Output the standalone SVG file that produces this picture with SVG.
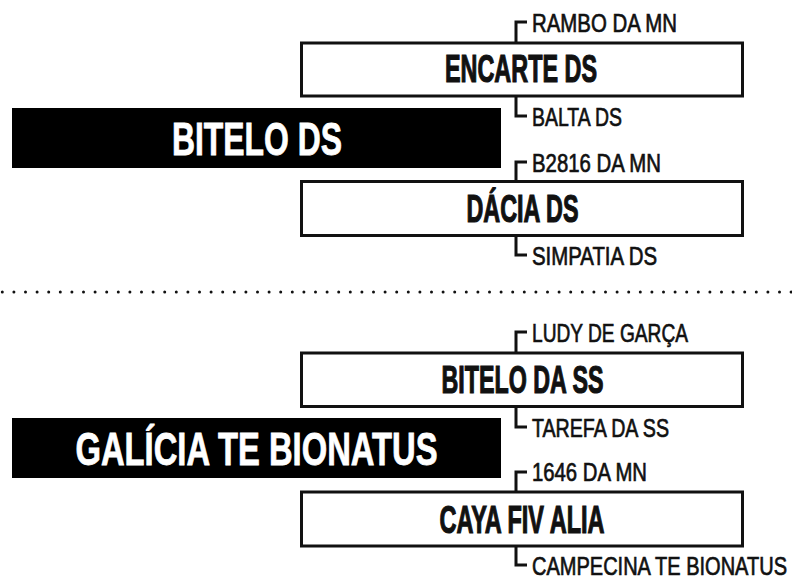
<svg xmlns="http://www.w3.org/2000/svg" width="792" height="578" viewBox="0 0 792 578">
  <style>
    .box { fill: #ffffff; stroke: #111111; stroke-width: 3; }
    .dark { fill: #000000; }
    .title { font-family: "Liberation Sans", Arial, sans-serif; font-weight: bold; font-size: 38px; fill: #111111; stroke: #111111; stroke-width: 1.2; text-anchor: middle; }
    .big { font-family: "Liberation Sans", Arial, sans-serif; font-weight: bold; font-size: 46px; fill: #ffffff; stroke: #ffffff; stroke-width: 0.8; text-anchor: middle; }
    .lbl { font-family: "Liberation Sans", Arial, sans-serif; font-size: 26px; fill: #111111; stroke: #111111; stroke-width: 0.7; }
    .br { fill: none; stroke: #111111; stroke-width: 3; }
    .sep { stroke: #111111; stroke-width: 3; stroke-linecap: round; stroke-dasharray: 0 11.6; }
  </style>
  <rect width="792" height="578" fill="#ffffff"/>

  <g id="separator">
    <line class="sep" x1="2.3" y1="292" x2="792" y2="292"/>
  </g>

  <g id="connectors">
    <polyline class="br" points="527,22 516,22 516,43"/>
    <polyline class="br" points="516,96 516,116 527,116"/>
    <polyline class="br" points="527,162 516,162 516,181.5"/>
    <polyline class="br" points="516,235.5 516,255 527,255"/>
    <polyline class="br" points="527,332 516,332 516,353"/>
    <polyline class="br" points="516,406.5 516,427 527,427"/>
    <polyline class="br" points="527,472 516,472 516,492"/>
    <polyline class="br" points="516,546 516,565 527,565"/>
  </g>

  <g id="bitelo-ds">
    <rect class="dark" x="12" y="108" width="489" height="60"/>
    <text class="big" x="257" y="155" textLength="170" lengthAdjust="spacingAndGlyphs">BITELO DS</text>
  </g>

  <g id="encarte-ds">
    <rect class="box" x="301.5" y="43" width="441" height="53"/>
    <text class="title" x="521" y="82" textLength="152" lengthAdjust="spacingAndGlyphs">ENCARTE DS</text>
    <text class="lbl" x="532" y="32" textLength="145" lengthAdjust="spacingAndGlyphs">RAMBO DA MN</text>
    <text class="lbl" x="532" y="126" textLength="90" lengthAdjust="spacingAndGlyphs">BALTA DS</text>
  </g>

  <g id="dacia-ds">
    <rect class="box" x="301.5" y="181.5" width="441" height="54"/>
    <text class="title" x="522.5" y="222" textLength="112" lengthAdjust="spacingAndGlyphs">DÁCIA DS</text>
    <text class="lbl" x="532" y="172" textLength="129" lengthAdjust="spacingAndGlyphs">B2816 DA MN</text>
    <text class="lbl" x="532" y="265" textLength="125" lengthAdjust="spacingAndGlyphs">SIMPATIA DS</text>
  </g>

  <g id="galicia-te-bionatus">
    <rect class="dark" x="12" y="418" width="489" height="60"/>
    <text class="big" x="256.5" y="465" textLength="362" lengthAdjust="spacingAndGlyphs">GALÍCIA TE BIONATUS</text>
  </g>

  <g id="bitelo-da-ss">
    <rect class="box" x="301.5" y="353" width="441" height="53.5"/>
    <text class="title" x="522.5" y="393" textLength="162" lengthAdjust="spacingAndGlyphs">BITELO DA SS</text>
    <text class="lbl" x="532" y="342" textLength="156" lengthAdjust="spacingAndGlyphs">LUDY DE GARÇA</text>
    <text class="lbl" x="532" y="437" textLength="137" lengthAdjust="spacingAndGlyphs">TAREFA DA SS</text>
  </g>

  <g id="caya-fiv-alia">
    <rect class="box" x="301.5" y="492" width="441" height="54"/>
    <text class="title" x="522" y="533" textLength="165" lengthAdjust="spacingAndGlyphs">CAYA FIV ALIA</text>
    <text class="lbl" x="532" y="481" textLength="115" lengthAdjust="spacingAndGlyphs">1646 DA MN</text>
    <text class="lbl" x="532" y="575" textLength="255" lengthAdjust="spacingAndGlyphs">CAMPECINA TE BIONATUS</text>
  </g>
</svg>
